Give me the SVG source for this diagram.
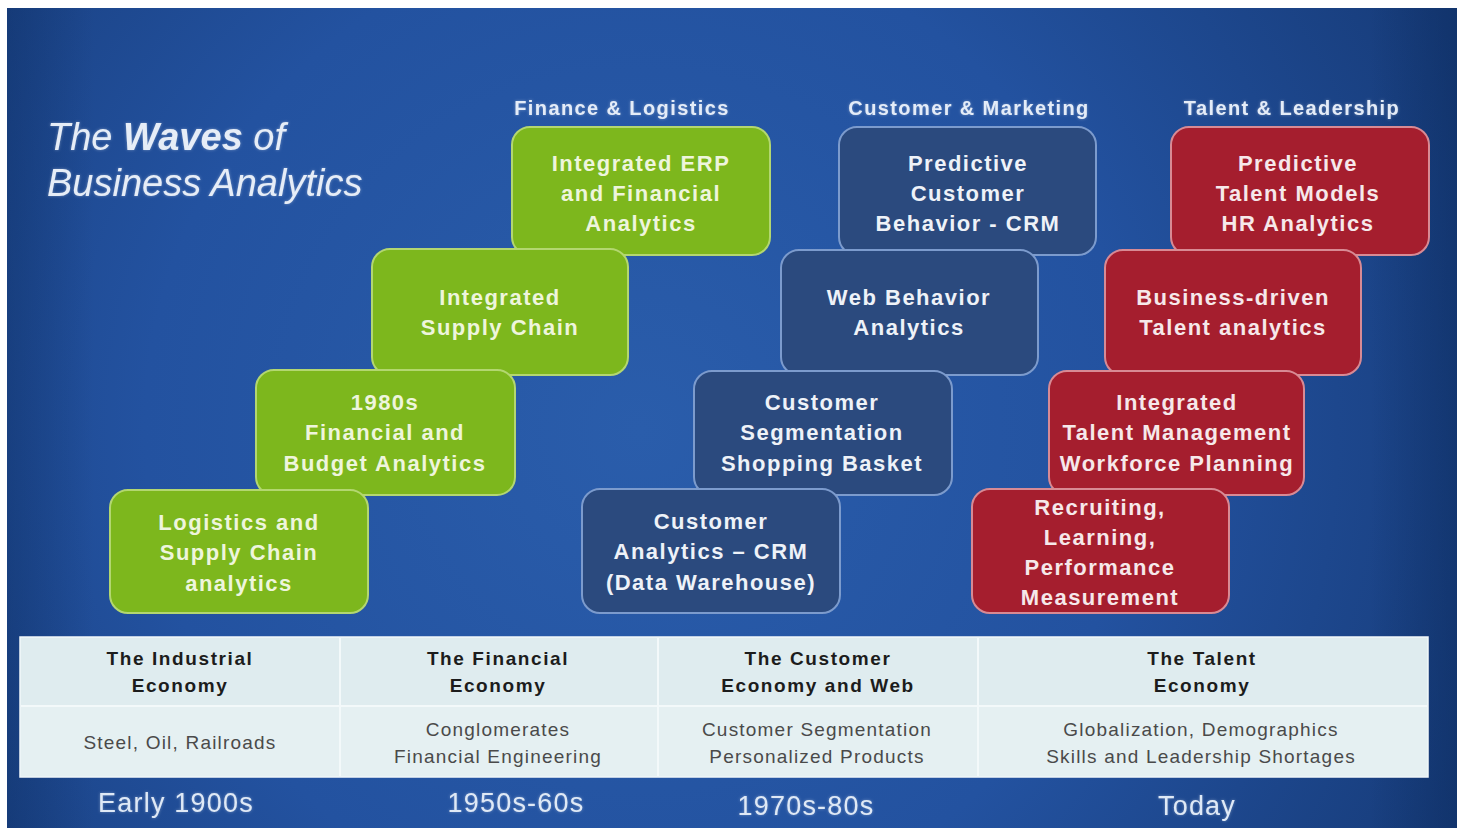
<svg xmlns="http://www.w3.org/2000/svg" width="1460" height="828" viewBox="0 0 1460 828">
  <defs>
    <radialGradient id="bg" cx="640" cy="430" r="900" gradientUnits="userSpaceOnUse">
      <stop offset="0" stop-color="#2a5dab"/>
      <stop offset="0.55" stop-color="#2352a0"/>
      <stop offset="1" stop-color="#173c7a"/>
    </radialGradient>
    <linearGradient id="edge" x1="0" y1="0" x2="1" y2="0">
      <stop offset="0" stop-color="#0b2a5c" stop-opacity="0.35"/>
      <stop offset="0.06" stop-color="#0b2a5c" stop-opacity="0"/>
      <stop offset="0.94" stop-color="#0b2a5c" stop-opacity="0"/>
      <stop offset="1" stop-color="#0b2a5c" stop-opacity="0.45"/>
    </linearGradient>
    <filter id="glow" x="-10%" y="-20%" width="120%" height="140%">
      <feGaussianBlur in="SourceAlpha" stdDeviation="1.6" result="b"/>
      <feFlood flood-color="#ffffff" flood-opacity="0.35"/>
      <feComposite in2="b" operator="in" result="g"/>
      <feMerge><feMergeNode in="g"/><feMergeNode in="SourceGraphic"/></feMerge>
    </filter>
    <style>
      .box { stroke-width: 2; }
      .green { fill: #7db71d; stroke: #b3d770; }
      .blue { fill: #2b4a7e; stroke: #7c9bcd; }
      .red { fill: #a51e2e; stroke: #d88a94; }
      .bt { font-family: "Liberation Sans", Arial, sans-serif; font-weight: bold; font-size: 22px; letter-spacing: 1.5px; text-anchor: middle; }
      .gt { fill: #eef5dc; }
      .blt { fill: #eef2f8; }
      .rt { fill: #f6e8ea; }
      .hdr { font-family: "Liberation Sans", Arial, sans-serif; font-weight: bold; font-size: 20px; letter-spacing: 1.4px; fill: #e4ecf8; text-anchor: middle; }
      .title { font-family: "Liberation Sans", Arial, sans-serif; font-style: italic; font-size: 38px; fill: #e6edf7; }
      .th { font-family: "Liberation Sans", Arial, sans-serif; font-weight: bold; font-size: 19px; letter-spacing: 1.6px; fill: #1c1c1c; text-anchor: middle; }
      .td { font-family: "Liberation Sans", Arial, sans-serif; font-size: 19px; letter-spacing: 1.2px; fill: #4a4a4a; text-anchor: middle; }
      .yr { font-family: "Liberation Sans", Arial, sans-serif; font-size: 27px; letter-spacing: 1.2px; fill: #dfe9f6; text-anchor: middle; }
    </style>
  </defs>

  <!-- page and backdrop -->
  <rect x="0" y="0" width="1460" height="828" fill="#ffffff"/>
  <rect x="7" y="8" width="1450" height="820" fill="url(#bg)"/>
  <rect x="7" y="8" width="1450" height="820" fill="url(#edge)"/>

  <!-- title -->
  <g id="title" filter="url(#glow)">
    <text class="title" x="47" y="150">The <tspan font-weight="bold">Waves</tspan> of</text>
    <text class="title" x="47" y="196">Business Analytics</text>
  </g>

  <!-- wave headings -->
  <g id="headings" filter="url(#glow)">
    <text class="hdr" x="622" y="115">Finance &amp; Logistics</text>
    <text class="hdr" x="969" y="115">Customer &amp; Marketing</text>
    <text class="hdr" x="1292" y="115">Talent &amp; Leadership</text>
  </g>

  <!-- green wave: finance & logistics -->
  <g id="g-erp">
    <rect class="box green" x="512" y="127" width="258" height="128" rx="18"/>
    <text class="bt gt" x="641" y="171">Integrated  ERP</text>
    <text class="bt gt" x="641" y="201">and Financial</text>
    <text class="bt gt" x="641" y="231">Analytics</text>
  </g>
  <g id="g-supply">
    <rect class="box green" x="372" y="249" width="256" height="126" rx="18"/>
    <text class="bt gt" x="500" y="305">Integrated</text>
    <text class="bt gt" x="500" y="335">Supply Chain</text>
  </g>
  <g id="g-budget">
    <rect class="box green" x="256" y="370" width="259" height="125" rx="18"/>
    <text class="bt gt" x="385" y="410">1980s</text>
    <text class="bt gt" x="385" y="440">Financial  and</text>
    <text class="bt gt" x="385" y="471">Budget Analytics</text>
  </g>
  <g id="g-logistics">
    <rect class="box green" x="110" y="490" width="258" height="123" rx="18"/>
    <text class="bt gt" x="239" y="530">Logistics  and</text>
    <text class="bt gt" x="239" y="560">Supply Chain</text>
    <text class="bt gt" x="239" y="591">analytics</text>
  </g>

  <!-- blue wave: customer & marketing -->
  <g id="b-predictive">
    <rect class="box blue" x="839" y="127" width="257" height="128" rx="18"/>
    <text class="bt blt" x="968" y="171">Predictive</text>
    <text class="bt blt" x="968" y="201">Customer</text>
    <text class="bt blt" x="968" y="231">Behavior - CRM</text>
  </g>
  <g id="b-web">
    <rect class="box blue" x="781" y="250" width="257" height="125" rx="18"/>
    <text class="bt blt" x="909" y="305">Web Behavior</text>
    <text class="bt blt" x="909" y="335">Analytics</text>
  </g>
  <g id="b-segmentation">
    <rect class="box blue" x="694" y="371" width="258" height="124" rx="18"/>
    <text class="bt blt" x="822" y="410">Customer</text>
    <text class="bt blt" x="822" y="440">Segmentation</text>
    <text class="bt blt" x="822" y="471">Shopping Basket</text>
  </g>
  <g id="b-crm">
    <rect class="box blue" x="582" y="489" width="258" height="124" rx="18"/>
    <text class="bt blt" x="711" y="529">Customer</text>
    <text class="bt blt" x="711" y="559">Analytics – CRM</text>
    <text class="bt blt" x="711" y="590">(Data Warehouse)</text>
  </g>

  <!-- red wave: talent & leadership -->
  <g id="r-predictive">
    <rect class="box red" x="1171" y="127" width="258" height="128" rx="18"/>
    <text class="bt rt" x="1298" y="171">Predictive</text>
    <text class="bt rt" x="1298" y="201">Talent Models</text>
    <text class="bt rt" x="1298" y="231">HR Analytics</text>
  </g>
  <g id="r-business">
    <rect class="box red" x="1105" y="250" width="256" height="125" rx="18"/>
    <text class="bt rt" x="1233" y="305">Business-driven</text>
    <text class="bt rt" x="1233" y="335">Talent analytics</text>
  </g>
  <g id="r-integrated">
    <rect class="box red" x="1049" y="371" width="255" height="124" rx="18"/>
    <text class="bt rt" x="1177" y="410">Integrated</text>
    <text class="bt rt" x="1177" y="440">Talent Management</text>
    <text class="bt rt" x="1177" y="471">Workforce Planning</text>
  </g>
  <g id="r-recruiting">
    <rect class="box red" x="972" y="489" width="257" height="124" rx="18"/>
    <text class="bt rt" x="1100" y="515">Recruiting,</text>
    <text class="bt rt" x="1100" y="545">Learning,</text>
    <text class="bt rt" x="1100" y="575">Performance</text>
    <text class="bt rt" x="1100" y="605">Measurement</text>
  </g>

  <!-- economies table -->
  <g id="table">
    <rect x="20" y="637" width="1408" height="140" fill="#dfecef" stroke="#f2f8fa" stroke-width="1.5"/>
    <rect x="21" y="706" width="1406" height="70" fill="#e5f0f2"/>
    <g stroke="#f3f9fa" stroke-width="2">
      <line x1="21" y1="706" x2="1427" y2="706"/>
      <line x1="340" y1="638" x2="340" y2="776"/>
      <line x1="658" y1="638" x2="658" y2="776"/>
      <line x1="978" y1="638" x2="978" y2="776"/>
    </g>
    <text class="th" x="180" y="665">The Industrial</text>
    <text class="th" x="180" y="692">Economy</text>
    <text class="th" x="498" y="665">The Financial</text>
    <text class="th" x="498" y="692">Economy</text>
    <text class="th" x="818" y="665">The Customer</text>
    <text class="th" x="818" y="692">Economy  and Web</text>
    <text class="th" x="1202" y="665">The Talent</text>
    <text class="th" x="1202" y="692">Economy</text>

    <text class="td" x="180" y="749">Steel, Oil, Railroads</text>
    <text class="td" x="498" y="736">Conglomerates</text>
    <text class="td" x="498" y="763">Financial Engineering</text>
    <text class="td" x="817" y="736">Customer Segmentation</text>
    <text class="td" x="817" y="763">Personalized  Products</text>
    <text class="td" x="1201" y="736">Globalization,  Demographics</text>
    <text class="td" x="1201" y="763">Skills and Leadership Shortages</text>
  </g>

  <!-- eras -->
  <g id="eras" filter="url(#glow)">
    <text class="yr" x="176" y="812">Early 1900s</text>
    <text class="yr" x="516" y="812">1950s-60s</text>
    <text class="yr" x="806" y="815">1970s-80s</text>
    <text class="yr" x="1197" y="815">Today</text>
  </g>
</svg>
